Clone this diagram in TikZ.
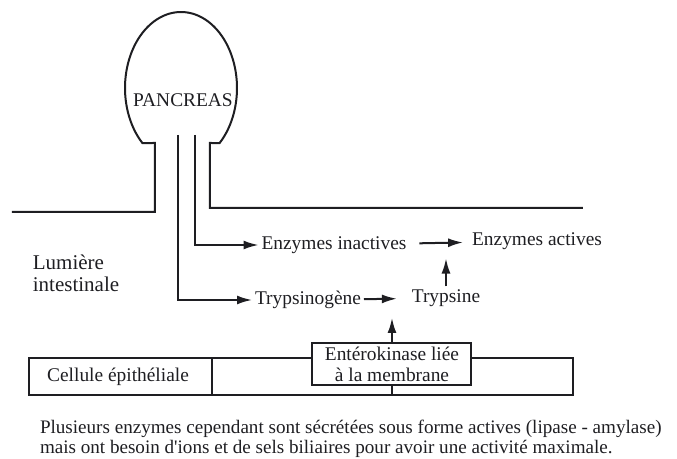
\documentclass[tikz,border=0pt]{standalone}
\usepackage{fontspec}
\setmainfont{Liberation Serif}
\usetikzlibrary{arrows.meta,positioning}
\definecolor{InkGray}{HTML}{1E1E22}

\begin{document}
\begin{tikzpicture}[x=0.5pt, y=-0.5pt,
  line width=1pt, InkGray,
  lbl/.style={inner sep=1pt, font=\fontsize{9.7}{11}\selectfont, text=InkGray},
  membox/.style={draw, fill=white, align=center, minimum width=79.5pt, minimum height=21pt, inner sep=1pt, font=\fontsize{9.7}{10.5}\selectfont},
  arr/.style={-{Latex[length=7.5pt,width=4.5pt]}}
]
\useasboundingbox (0,0) rectangle (677,459);
% pancreas and intestinal wall
\draw (12,212) -- (155,212) -- (155,143)
  -- plot[domain=133.6:406.4, samples=80] ({181+56*cos(\x)},{88+76*sin(\x)})
  -- (210,143) -- (210,208) -- (583,208);
\node[lbl] (panc) at (183,100) {PANCREAS};
\node[lbl, align=left, font=\fontsize{10.5}{11}\selectfont] (lum) at (76,273) {Lumière\\intestinale};

% products
\node[lbl] (inact) at (334,245) {Enzymes inactives};
\node[lbl] (act) at (537,241) {Enzymes actives};
\node[lbl] (tgen) at (308,300) {Trypsinogène};
\node[lbl] (tryp) at (446,298) {Trypsine};

% ducts
\draw[arr] (178,135) -- (178,300) -- (tgen.west);
\draw[arr] (195,135) -- (195,245) -- (inact.west);
\draw[arr, shorten <=5pt, shorten >=3pt] (inact) -- (act);
\draw[arr, shorten >=6pt] (tgen) -- (tryp);
\draw[arr, shorten >=3pt] (tryp.north) -- (tryp.north |- act.south);

% epithelial cell
\draw (29,358) rectangle (573,395);
\draw (212,358) -- (212,395);
\node[lbl] (cell) at (118,377) {Cellule épithéliale};
\node[membox] (ek) at (392,364) {Entérokinase liée\\à la membrane};
\draw (ek.south) -- (ek.south |- 0,395);
\coordinate (ektip) at (392,318);
\draw[arr] (ek.north) -- (ektip);

% note
\node[lbl, anchor=west, align=left, font=\fontsize{9.55}{8}\selectfont] (note) at (37,439)
  {Plusieurs enzymes cependant sont sécrétées sous forme actives (lipase - amylase)\\
   mais ont besoin d\textquotesingle ions et de sels biliaires pour avoir une activité maximale.};
\end{tikzpicture}
\end{document}
